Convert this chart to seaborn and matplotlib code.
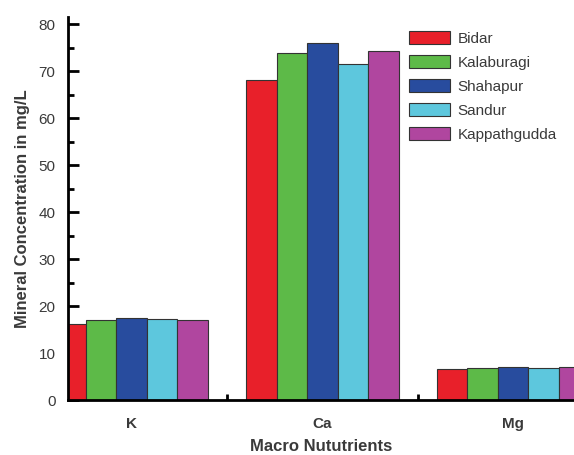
import matplotlib
matplotlib.use("Agg")
import matplotlib.pyplot as plt
import seaborn as sns
import pandas as pd
from matplotlib.ticker import FixedLocator

nutrients = ["K", "Ca", "Mg"]
sites = ["Bidar", "Kalaburagi", "Shahapur", "Sandur", "Kappathgudda"]
bidar = [16.1, 68.1, 6.6]
kalaburagi = [17.0, 73.8, 6.8]
shahapur = [17.5, 76.0, 7.1]
sandur = [17.2, 71.6, 6.8]
kappathgudda = [17.0, 74.3, 7.0]
colors = ["#E8202A", "#5DBA48", "#284C9E", "#5DC7DD", "#B0469F"]

series = [bidar, kalaburagi, shahapur, sandur, kappathgudda]
rows = []
for s, vals in zip(sites, series):
    for n, v in zip(nutrients, vals):
        rows.append({"Nutrient": n, "Site": s, "Value": v})
df = pd.DataFrame(rows)

sns.set_theme(style="ticks")
plt.rcParams["font.family"] = ["Liberation Sans", "DejaVu Sans"]

fig = plt.figure(figsize=(5.74, 4.55), dpi=100)
ax = fig.add_axes([68/574, 1-400/455, 1-68/574, (400-17)/455])

sns.barplot(data=df, x="Nutrient", y="Value", hue="Site", order=nutrients,
            hue_order=sites, palette=colors, width=0.8, ax=ax,
            edgecolor="#333333", linewidth=0.8, saturation=1)

ax.set_xlim(-0.334, (574-131.7)/190.6)
ax.set_ylim(0, 81.5)
ax.yaxis.set_major_locator(FixedLocator([0, 10, 20, 30, 40, 50, 60, 70, 80]))
ax.yaxis.set_minor_locator(FixedLocator([5, 15, 25, 35, 45, 55, 65, 75]))
ax.xaxis.set_minor_locator(FixedLocator([0.5, 1.5]))

for side in ["top", "right"]:
    ax.spines[side].set_visible(False)
for side in ["left", "bottom"]:
    ax.spines[side].set_linewidth(2)
    ax.spines[side].set_color("black")

ax.tick_params(axis="both", which="both", left=True, bottom=True,
               top=False, right=False)
ax.tick_params(axis="both", which="major", direction="in", length=8, width=2,
               color="black", labelsize=11, labelcolor="#3a3a3a")
ax.tick_params(axis="both", which="minor", direction="in", length=4, width=2,
               color="black")
ax.tick_params(axis="x", which="major", pad=12)
ax.tick_params(axis="y", which="major", pad=9)
for lbl in ax.get_xticklabels():
    lbl.set_fontweight("bold")

ax.set_ylabel("Mineral Concentration in mg/L", fontsize=12, fontweight="bold",
              color="#3a3a3a", labelpad=6)
ax.set_xlabel("Macro Nututrients", fontsize=12, fontweight="bold",
              color="#3a3a3a", labelpad=6)

handles, labels = ax.get_legend_handles_labels()
ax.legend(handles, labels, loc="upper left",
          bbox_to_anchor=(397/574, 1-19/455), bbox_transform=fig.transFigure,
          frameon=True, facecolor="white", edgecolor="none", framealpha=1,
          fontsize=11, handlelength=2.7, handleheight=0.95, labelspacing=0.6,
          handletextpad=0.45, borderpad=0.3, title=None,
          labelcolor="#3a3a3a")

fig.savefig("out.png", dpi=100)
